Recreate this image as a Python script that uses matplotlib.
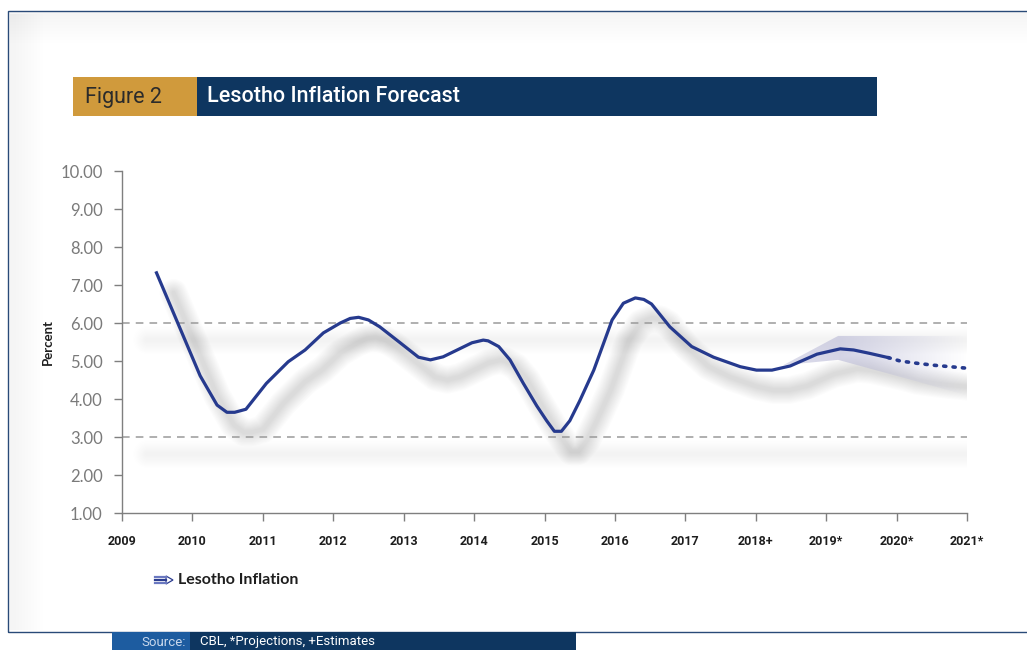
import matplotlib
matplotlib.use("Agg")
import matplotlib.pyplot as plt
import matplotlib.transforms as mtransforms
from matplotlib.patches import Rectangle, Polygon
import numpy as np

# ---- data ----
years_actual = [2009.49, 2010.11, 2010.35, 2010.49, 2010.60, 2010.76, 2011.05, 2011.36,
                2011.60, 2011.86, 2012.10, 2012.24, 2012.36, 2012.50, 2012.66, 2012.95,
                2013.21, 2013.38, 2013.56, 2013.97, 2014.13, 2014.20, 2014.35, 2014.51,
                2014.70, 2014.89, 2015.03, 2015.14, 2015.24, 2015.36, 2015.50, 2015.70,
                2015.96, 2016.12, 2016.29, 2016.41, 2016.52, 2016.78, 2017.09, 2017.40,
                2017.78, 2018.01, 2018.23, 2018.49, 2018.87, 2019.20, 2019.39, 2019.62,
                2019.88]
inflation_actual = [7.32, 4.61, 3.84, 3.65, 3.65, 3.73, 4.41, 4.98,
                    5.29, 5.74, 6.00, 6.12, 6.15, 6.08, 5.90, 5.48,
                    5.10, 5.03, 5.11, 5.48, 5.55, 5.53, 5.38, 5.03,
                    4.41, 3.82, 3.43, 3.15, 3.15, 3.43, 3.95, 4.76,
                    6.08, 6.52, 6.66, 6.62, 6.50, 5.90, 5.38, 5.10,
                    4.85, 4.76, 4.76, 4.87, 5.18, 5.32, 5.29, 5.20,
                    5.09]
years_forecast = [2019.88, 2020.05, 2020.29, 2020.52, 2020.76, 2021.0]
inflation_forecast = [5.09, 5.00, 4.94, 4.89, 4.85, 4.81]

fan_years = [2018.39, 2019.17, 2021.0]
fan_high = [4.89, 5.66, 5.66]
fan_low = [4.89, 5.03, 4.10]

target_band = [3.0, 6.0]
tick_years = list(range(2009, 2022))
tick_labels = ["2009", "2010", "2011", "2012", "2013", "2014", "2015", "2016",
               "2017", "2018+", "2019*", "2020*", "2021*"]

NAVY = "#0e3660"
GOLD = "#d09a3c"
LINE = "#263a8e"
NARROW = ["Roboto", "DejaVu Sans"]
SANS = ["Lato", "DejaVu Sans"]

W, H = 1027, 650
fig = plt.figure(figsize=(W / 100, H / 100), dpi=100)


def fx(px):
    return px / W


def fy(py):
    return 1 - py / H


# soft inner shadow of the frame (top and left)
for i in range(10):
    fig.patches.append(Rectangle((fx(10), fy(16 + 3 * i)), 1, fy(12) - fy(16 + 3 * i),
                                 transform=fig.transFigure, color="#000000",
                                 alpha=0.005, lw=0, zorder=0))
    fig.patches.append(Rectangle((fx(10), fy(630)), fx(3 * i + 6) - fx(0), fy(14) - fy(630),
                                 transform=fig.transFigure, color="#000000",
                                 alpha=0.005, lw=0, zorder=0))

# outer frame
fig.patches.append(Rectangle((fx(8), fy(632)), 1.2, fy(11) - fy(632),
                             transform=fig.transFigure, fill=False,
                             edgecolor="#294a78", lw=1.0, zorder=1))

# title bar
fig.patches.append(Rectangle((fx(73), fy(116)), fx(197) - fx(73), fy(77) - fy(116),
                             transform=fig.transFigure, color=GOLD, lw=0, zorder=2))
fig.patches.append(Rectangle((fx(197), fy(116)), fx(877) - fx(197), fy(77) - fy(116),
                             transform=fig.transFigure, color=NAVY, lw=0, zorder=2))
fig.text(fx(85), fy(97), "Figure 2", color="#2b2b2b", fontsize=15.5,
         family=NARROW, va="center", ha="left", zorder=3)
fig.text(fx(207), fy(97), "Lesotho Inflation Forecast", color="white", fontsize=15.5,
         family=NARROW, fontweight="medium", va="center", ha="left", zorder=3)

# source bar
fig.patches.append(Rectangle((fx(112), 0), fx(190) - fx(112), fy(632),
                             transform=fig.transFigure, color="#1d5ca0", lw=0, zorder=2))
fig.patches.append(Rectangle((fx(190), 0), fx(576) - fx(190), fy(632),
                             transform=fig.transFigure, color=NAVY, lw=0, zorder=2))
fig.text(fx(186), fy(642), "Source:", color="#c9d8ec", fontsize=9.5,
         family=NARROW, va="center", ha="right", zorder=3)
fig.text(fx(200), fy(642), "CBL, *Projections, +Estimates", color="white", fontsize=9.5,
         family=NARROW, va="center", ha="left", zorder=3)

# axes
ax = fig.add_axes([fx(122), fy(513), fx(967) - fx(122), fy(171) - fy(513)])
ax.set_facecolor("none")

shadow = mtransforms.offset_copy(ax.transData, fig=fig, x=17, y=-20, units="dots")
band_shadow = mtransforms.offset_copy(ax.transData, fig=fig, x=18, y=-17, units="dots")

# blurred shadows
for lw in np.linspace(3, 20, 12):
    ax.plot(years_actual + years_forecast[1:], inflation_actual + inflation_forecast[1:],
            color="#000000", alpha=0.013, lw=lw, transform=shadow,
            solid_capstyle="round", zorder=1)
    for lvl in target_band:
        ax.plot([2009.1, 2021.0], [lvl, lvl], color="#000000", alpha=0.004, lw=lw,
                transform=band_shadow, solid_capstyle="round", zorder=1)

# reference lines
for lvl in target_band:
    ax.axhline(lvl, color="#9a9a9a", lw=1.1, ls=(0, (5, 4)), zorder=2)

# forecast fan with a fading gradient
fan_poly = ax.fill_between(fan_years, fan_low, fan_high, facecolor="none", lw=0)
grad = np.zeros((1, 256, 4))
grad[..., 0] = 0.74
grad[..., 1] = 0.74
grad[..., 2] = 0.85
grad[..., 3] = np.concatenate([np.linspace(0.5, 0.65, 80), np.linspace(0.65, 0.0, 176)])
im = ax.imshow(grad, extent=[fan_years[0], fan_years[-1], min(fan_low), max(fan_high)],
               aspect="auto", zorder=3, interpolation="bilinear")
im.set_clip_path(fan_poly.get_paths()[0], transform=ax.transData)

ax.plot(years_actual, inflation_actual, color=LINE, lw=2.3, zorder=5,
        solid_joinstyle="round")
ax.plot(years_forecast, inflation_forecast, color=LINE, lw=2.6, ls=(0, (0.6, 2.0)),
        dash_capstyle="round", zorder=5)

ax.set_xlim(2009, 2021)
ax.set_ylim(1, 10)
ax.set_yticks(np.arange(1, 11))
ax.set_yticklabels([f"{v:.2f}" for v in np.arange(1, 11)])
ax.set_xticks(tick_years)
ax.set_xticklabels(tick_labels)

for side in ["top", "right"]:
    ax.spines[side].set_visible(False)
for side in ["left", "bottom"]:
    ax.spines[side].set_color("#7f7f7f")
    ax.spines[side].set_linewidth(1.0)

ax.tick_params(axis="y", direction="out", length=6, width=1, color="#7f7f7f",
               pad=8, labelsize=12, labelcolor="#7a7a7a")
ax.tick_params(axis="x", direction="out", length=6, width=1, color="#7f7f7f",
               pad=10, labelsize=9, labelcolor="#1e1e1e")
for lab in ax.get_yticklabels():
    lab.set_family(SANS)
for lab in ax.get_xticklabels():
    lab.set_family(NARROW)
    lab.set_fontweight("bold")

fig.text(fx(48), fy(342), "Percent", rotation=90, fontsize=9.5, color="#1e1e1e",
         family=SANS, fontweight="bold", ha="center", va="center")

# legend icon + label
ly = 580
for dy, c in [(-3, "#6a78c0"), (0, "#2b3c8f"), (3, "#6a78c0")]:
    fig.lines.append(plt.Line2D([fx(155), fx(166)], [fy(ly + dy), fy(ly + dy)],
                                transform=fig.transFigure, color=c, lw=1.6))
fig.patches.append(Polygon([(fx(166), fy(ly - 4)), (fx(173), fy(ly)), (fx(166), fy(ly + 4))],
                           closed=True, transform=fig.transFigure, facecolor="white",
                           edgecolor="#2b3c8f", lw=0.9))
fig.text(fx(178), fy(ly), "Lesotho Inflation", fontsize=11.5, color="#1e1e1e",
         family=SANS, fontweight="bold", ha="left", va="center")

fig.savefig("out.png", dpi=100, facecolor="white")
